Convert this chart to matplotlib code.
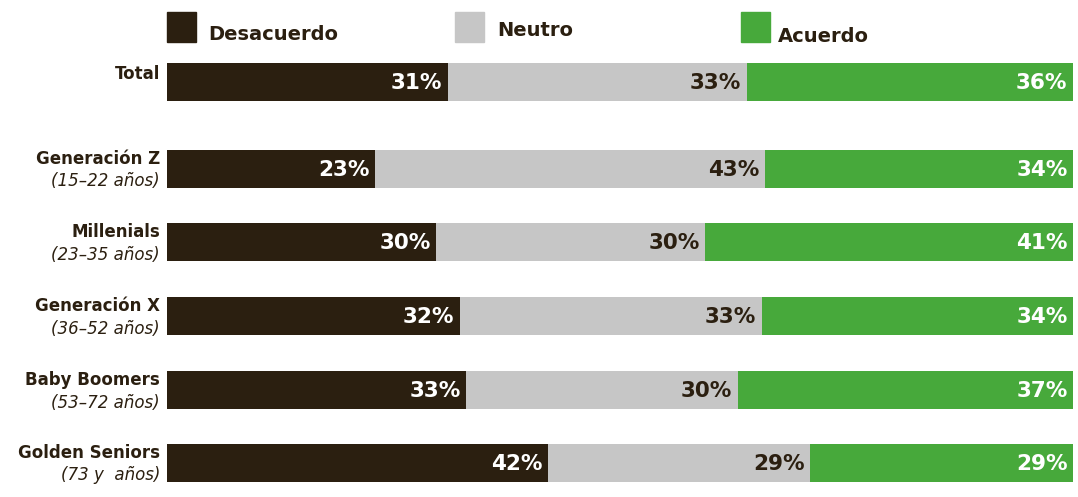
import matplotlib.pyplot as plt
from matplotlib.patches import Rectangle

grupos = ["Total", "Generación Z", "Millenials", "Generación X", "Baby Boomers", "Golden Seniors"]
edades = ["", "(15–22 años)", "(23–35 años)", "(36–52 años)", "(53–72 años)", "(73 y  años)"]
desacuerdo = [31, 23, 30, 32, 33, 42]
neutro = [33, 43, 30, 33, 30, 29]
acuerdo = [36, 34, 41, 34, 37, 29]

series = ["Desacuerdo", "Neutro", "Acuerdo"]
colores = ["#2b1f10", "#c6c6c6", "#47a93b"]
color_txt = ["white", "#2b1f10", "white"]

# vertical centres of the bars in pixel rows (layout only)
ypos = [82, 169, 242, 316, 390, 463]
alto = 38

fig = plt.figure(figsize=(10.78, 4.97), dpi=100)
ax = fig.add_axes([167 / 1078, 0, 906 / 1078, 1])
ax.set_xlim(0, 100)
ax.set_ylim(497, 0)
ax.axis("off")

sumas = [a + b + c for a, b, c in zip(desacuerdo, neutro, acuerdo)]
izq = [0] * len(grupos)
for vals, col, tc in zip([desacuerdo, neutro, acuerdo], colores, color_txt):
    anchos = [v / s * 100 for v, s in zip(vals, sumas)]
    ax.barh(ypos, anchos, left=izq, height=alto, color=col, edgecolor="none")
    for y, l, w, v in zip(ypos, izq, anchos, vals):
        ax.annotate(f"{v}%", (l + w, y), xytext=(-4, -1), textcoords="offset points",
                    ha="right", va="center", color=tc, fontsize=15.5, fontweight="heavy")
    izq = [a + b for a, b in zip(izq, anchos)]

for y, g, e in zip(ypos, grupos, edades):
    if e:
        ax.annotate(g, (0, y), xytext=(-5, 7), textcoords="offset points", ha="right",
                    va="center", fontsize=12, fontweight="bold", color="#2b1f10")
        ax.annotate(e, (0, y), xytext=(-5, -9), textcoords="offset points", ha="right",
                    va="center", fontsize=12, style="italic", color="#2b1f10")
    else:
        ax.annotate(g, (0, y), xytext=(-5, 6), textcoords="offset points", ha="right",
                    va="center", fontsize=12, fontweight="bold", color="#2b1f10")

# legend
leg = [(167, 208, 35), (455, 497, 30), (741, 778, 36)]
for (sx, tx, ty), nom, col in zip(leg, series, colores):
    fig.patches.append(Rectangle((sx / 1078, 1 - 42 / 497), 29 / 1078, 30 / 497,
                                 transform=fig.transFigure, color=col))
    fig.text(tx / 1078, 1 - ty / 497, nom, ha="left", va="center", fontsize=14,
             fontweight="bold", color="#2b1f10")

fig.savefig("out.png", dpi=100)
